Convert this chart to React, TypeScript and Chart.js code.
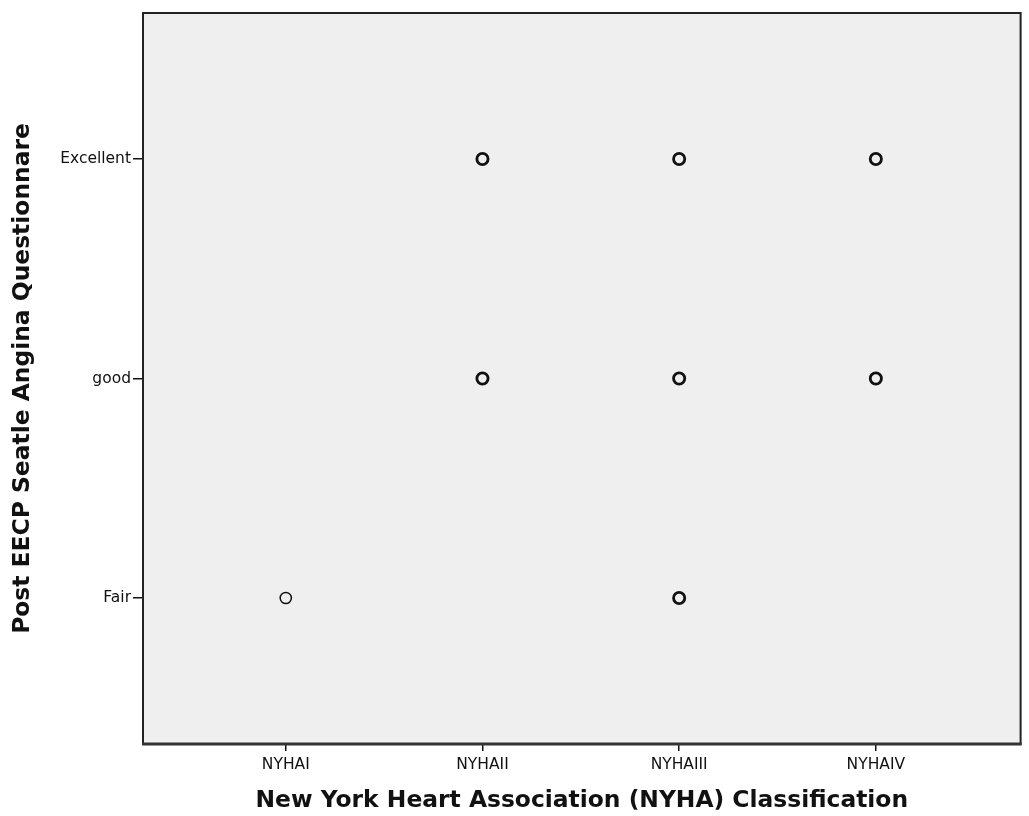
import React, { useEffect, useRef } from "react";
import { Chart, registerables } from "chart.js";

Chart.register(...registerables);

const xCategories = ["NYHAI", "NYHAII", "NYHAIII", "NYHAIV"];
const yCategories = ["Fair", "good", "Excellent"];

// each observed combination: x category index (1-based), y category index (1-based)
const pointX = [1, 2, 2, 3, 3, 3, 4, 4];
const pointY = [1, 3, 2, 3, 2, 1, 3, 2];
// estimated number of overlapping cases at each point (drawn as a heavier ring)
const caseCounts = [1, 2, 3, 3, 2, 3, 3, 3];

const xTitle = "New York Heart Association (NYHA) Classification";
const yTitle = "Post EECP Seatle Angina Questionnare";

const plotBackground = {
  id: "plotBackground",
  beforeDraw(chart: any) {
    const { ctx, chartArea } = chart;
    if (!chartArea) return;
    const { left, top, right, bottom } = chartArea;
    ctx.save();
    ctx.fillStyle = "#efefef";
    ctx.fillRect(left, top, right - left, bottom - top);
    ctx.restore();
  },
  afterDatasetsDraw(chart: any) {
    const { ctx, chartArea } = chart;
    const { left, top, right, bottom } = chartArea;
    ctx.save();
    ctx.strokeStyle = "#222";
    ctx.lineWidth = 2;
    ctx.strokeRect(left, top, right - left, bottom - top);
    ctx.strokeStyle = "#333";
    ctx.lineWidth = 3;
    ctx.beginPath();
    ctx.moveTo(left - 1, bottom);
    ctx.lineTo(right + 1, bottom);
    ctx.stroke();
    ctx.restore();
  },
};

export default function App() {
  const canvasRef = useRef<HTMLCanvasElement | null>(null);

  useEffect(() => {
    if (!canvasRef.current) return;
    const data = pointX.map((x, i) => ({ x, y: pointY[i] }));
    const chart = new Chart(canvasRef.current, {
      type: "scatter",
      data: {
        datasets: [
          {
            data,
            backgroundColor: "rgba(0,0,0,0)",
            borderColor: "#111",
            pointRadius: 5.6,
            pointHoverRadius: 5.6,
            pointBorderWidth: (ctx: any) =>
              caseCounts[ctx.dataIndex] > 1 ? 2.8 : 1.5,
          } as any,
        ],
      },
      options: {
        animation: false,
        responsive: false,
        maintainAspectRatio: false,
        layout: { padding: { left: 0, top: 13, right: 7, bottom: 0 } },
        plugins: {
          legend: { display: false },
          tooltip: { enabled: false },
        },
        scales: {
          x: {
            type: "linear",
            min: 0.274,
            max: 4.736,
            afterBuildTicks: (axis: any) => {
              axis.ticks = xCategories.map((_, i) => ({ value: i + 1 }));
            },
            afterFit: (axis: any) => {
              axis.height = 72;
            },
            ticks: {
              callback: (v: any) => xCategories[Number(v) - 1] ?? "",
              color: "#111",
              font: { family: "DejaVu Sans", size: 15.5 },
              padding: 5,
              maxRotation: 0,
              autoSkip: false,
            },
            grid: {
              drawOnChartArea: false,
              drawTicks: true,
              tickLength: 7,
              color: "#111",
              lineWidth: 1.5,
            },
            border: { display: false },
            title: {
              display: true,
              text: xTitle,
              color: "#111",
              font: { family: "DejaVu Sans", size: 23.4, weight: "bold" },
              padding: { top: 0, bottom: 1 },
            },
          },
          y: {
            type: "linear",
            min: 0.335,
            max: 3.665,
            afterBuildTicks: (axis: any) => {
              axis.ticks = yCategories.map((_, i) => ({ value: i + 1 }));
            },
            afterFit: (axis: any) => {
              axis.width = 143;
            },
            ticks: {
              callback: (v: any) => yCategories[Number(v) - 1] ?? "",
              color: "#111",
              font: { family: "DejaVu Sans", size: 15.5 },
              padding: 2,
              autoSkip: false,
            },
            grid: {
              drawOnChartArea: false,
              drawTicks: true,
              tickLength: 10,
              color: "#111",
              lineWidth: 1.5,
            },
            border: { display: false },
            title: {
              display: true,
              text: yTitle,
              color: "#111",
              font: { family: "DejaVu Sans", size: 23.4, weight: "bold" },
              padding: { top: 9, bottom: 0 },
            },
          },
        },
      } as any,
      plugins: [plotBackground],
    });
    return () => chart.destroy();
  }, []);

  return (
    <div
      style={{
        position: "fixed",
        left: 0,
        top: 0,
        width: 1029,
        height: 816,
        background: "#fff",
      }}
    >
      <canvas ref={canvasRef} width={1029} height={816} />
    </div>
  );
}
